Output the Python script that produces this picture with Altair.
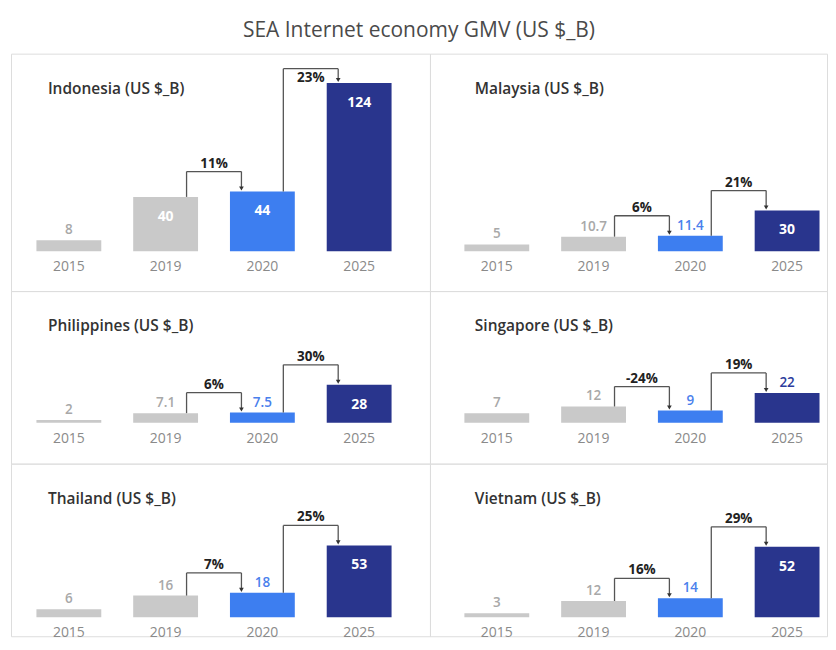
import altair as alt
import pandas as pd

# ---------------- data ----------------
years = ["2015", "2019", "2020", "2025"]
countries = ["Indonesia", "Malaysia", "Philippines", "Singapore", "Thailand", "Vietnam"]
indonesia = [8, 40, 44, 124]
malaysia = [5, 10.7, 11.4, 30]
philippines = [2, 7.1, 7.5, 28]
singapore = [7, 12, 9, 22]
thailand = [6, 16, 18, 53]
vietnam = [3, 12, 14, 52]
growth_2019_2020 = ["11%", "6%", "6%", "-24%", "7%", "16%"]
growth_2020_2025 = ["23%", "21%", "30%", "19%", "25%", "29%"]
series = [indonesia, malaysia, philippines, singapore, thailand, vietnam]

# ---------------- style ----------------
FONT = "Open Sans"
BAR_COLORS = ["#c9c9c9", "#c9c9c9", "#3d7ef0", "#29358d"]
LABEL_COLORS = ["#a8a8a8", "#a8a8a8", "#4a80ec", "#2c3c9c"]
LINE = "#555555"
K = 1.36            # pixels per US$ B (shared by every panel)
STEP, BAR = 97, 65  # band step and bar width in px
COL_W = [420, 398]
COL_C0 = [58, 67]   # centre of first bar in each column
COL_TX = [37, 45]   # panel title x
ROWS = [(238, 198), (173, 132), (173, 154)]  # (panel height, baseline from top)


def panel(idx, col, row):
    vals = series[idx]
    name = countries[idx]
    W = COL_W[col]
    H, base = ROWS[row]
    p_in = (STEP - BAR) / STEP
    p_out = (W / STEP - 4 + p_in) / 2
    align = (COL_C0[col] - BAR / 2) / (W - (3 * STEP + BAR))
    xs = alt.Scale(domain=years, paddingInner=p_in, paddingOuter=p_out, align=align)
    ymax = base / K
    ymin = -(H - base) / K
    ys = alt.Scale(domain=[ymin, ymax], nice=False, zero=False)

    df = pd.DataFrame({
        "year": years,
        "value": vals,
        "label": [f"{v:g}" for v in vals],
        "inside": [v >= 25 for v in vals],
        "bcol": BAR_COLORS,
        "lcol": LABEL_COLORS,
    })

    bars = alt.Chart(df).mark_bar().encode(
        x=alt.X("year:N", scale=xs, axis=None),
        y=alt.Y("value:Q", scale=ys, axis=None),
        y2=alt.datum(0),
        color=alt.Color("bcol:N", scale=None),
    )
    above = alt.Chart(df).transform_filter("!datum.inside").mark_text(
        dy=-10, fontSize=13.5, font=FONT, fontWeight=600
    ).encode(
        x=alt.X("year:N", scale=xs, axis=None),
        y=alt.Y("value:Q", scale=ys, axis=None),
        text="label:N",
        color=alt.Color("lcol:N", scale=None),
    )
    inside = alt.Chart(df).transform_filter("datum.inside").mark_text(
        dy=20, fontSize=14, font=FONT, fontWeight="bold", color="white"
    ).encode(
        x=alt.X("year:N", scale=xs, axis=None),
        y=alt.Y("value:Q", scale=ys, axis=None),
        text="label:N",
    )
    yearlab = alt.Chart(df).mark_text(fontSize=14, font=FONT, color="#8a8a8a").encode(
        x=alt.X("year:N", scale=xs, axis=None),
        y=alt.value(base + 16),
        text="year:N",
    )
    title = alt.Chart(pd.DataFrame({"t": [f"{name} (US $_B)"]})).mark_text(
        align="left", baseline="middle", fontSize=15.5, font=FONT, fontWeight=600, color="#333333"
    ).encode(x=alt.value(COL_TX[col]), y=alt.value(35), text="t:N")

    # growth connectors
    rows = []
    for a, b, g in [(1, 2, growth_2019_2020[idx]), (2, 3, growth_2020_2025[idx])]:
        level = max(vals[a], vals[b]) + 20 / K
        level = min(level, ymax - 15 / K)
        if level + 16 / K < ymax:
            ly = level + 8 / K
        else:
            ly = level - 9 / K
        rows.append({"from": years[a], "to": years[b], "fv": vals[a], "tv": vals[b],
                     "tvtop": vals[b] + 3 / K, "level": level, "g": g, "ly": ly})
    cdf = pd.DataFrame(rows)

    up = alt.Chart(cdf).mark_rule(xOffset=21, color=LINE, strokeWidth=1.3).encode(
        x=alt.X("from:N", scale=xs, axis=None),
        y=alt.Y("fv:Q", scale=ys, axis=None), y2="level:Q")
    horiz = alt.Chart(cdf).mark_rule(xOffset=21, x2Offset=-21, color=LINE, strokeWidth=1.3).encode(
        x=alt.X("from:N", scale=xs, axis=None), x2="to:N",
        y=alt.Y("level:Q", scale=ys, axis=None))
    down = alt.Chart(cdf).mark_rule(xOffset=-21, color=LINE, strokeWidth=1.3).encode(
        x=alt.X("to:N", scale=xs, axis=None),
        y=alt.Y("level:Q", scale=ys, axis=None), y2="tvtop:Q")
    arrow = alt.Chart(cdf).mark_point(shape="triangle-down", filled=True, size=22, opacity=1,
                                      xOffset=-21, yOffset=-3, color="#333333").encode(
        x=alt.X("to:N", scale=xs, axis=None),
        y=alt.Y("tv:Q", scale=ys, axis=None))
    glab = alt.Chart(cdf).mark_text(xOffset=STEP / 2, fontSize=13.5, font=FONT, fontWeight="bold",
                                    color="#222222").encode(
        x=alt.X("from:N", scale=xs, axis=None),
        y=alt.Y("ly:Q", scale=ys, axis=None),
        text="g:N")

    return alt.layer(bars, up, horiz, down, arrow, above, inside, yearlab, glab, title).properties(
        width=W, height=H)


panels = [panel(i, i % 2, i // 2) for i in range(6)]

chart = alt.concat(*panels, columns=2, spacing=0, bounds="flush", align="each").properties(
    title=alt.TitleParams("SEA Internet economy GMV (US $_B)", fontSize=21, font=FONT,
                          fontWeight="normal", color="#4a4a4a", anchor="middle", offset=12),
    padding={"left": 2, "top": 11, "right": 0, "bottom": 0},
).configure_view(stroke="#e8e8e8", strokeWidth=1).configure(background="white")

chart.save("out.html", embed_options={"renderer": "svg", "actions": False})
